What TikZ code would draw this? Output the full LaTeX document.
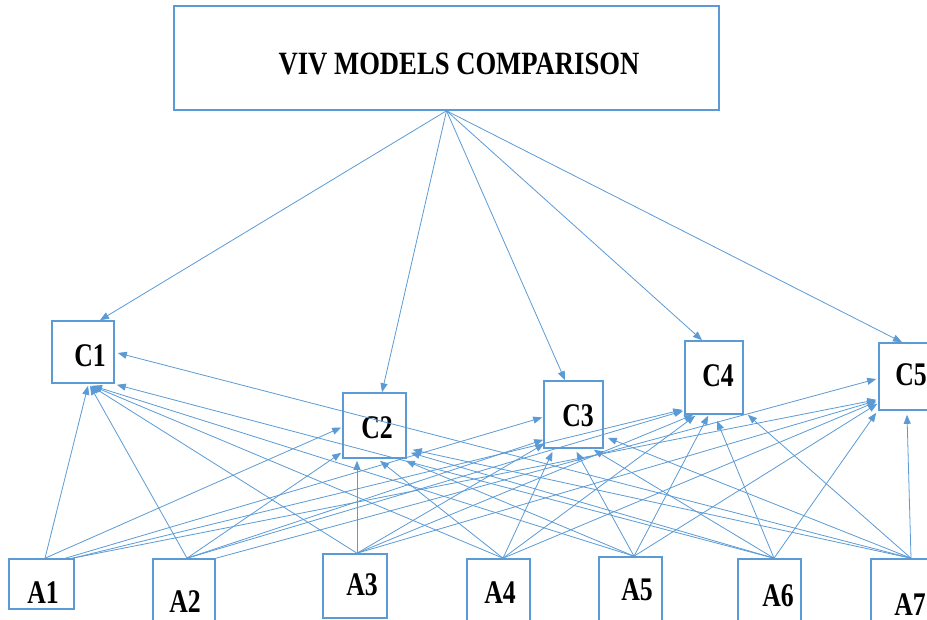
\documentclass[tikz,border=0pt]{standalone}
\usepackage{fontspec}
\setmainfont{Liberation Serif}
\newfontfamily\condfont[FakeStretch=0.78]{Liberation Serif}
\newfontfamily\titlefont[FakeStretch=0.82]{Liberation Serif}
\usetikzlibrary{arrows.meta,calc}
\definecolor{vivblue}{RGB}{91,155,213}
\tikzset{
  box/.style={draw=vivblue, line width=1.6pt, inner sep=0pt, fill=none},
  lbl/.style={inner sep=0pt, font=\condfont\bfseries\fontsize{33}{33}\selectfont, text=black},
  ttl/.style={inner sep=0pt, font=\titlefont\bfseries\fontsize{32.5}{33}\selectfont, text=black},
  con/.style={draw=vivblue, line width=0.8pt, -{Triangle[length=9pt,width=7pt]}},
}
\begin{document}
\begin{tikzpicture}[x=1pt,y=-1pt]
\clip (0,0) rectangle (927,620);
\fill[white] (0,0) rectangle (927,620);
% top box
\node[box, minimum width=545pt, minimum height=104pt] (T) at (446.5,58) {};
\node[ttl] (Tl) at (459,64) {VIV MODELS COMPARISON};
% C boxes
\node[box, minimum width=62pt, minimum height=62pt] (C1) at (83,352) {};
\node[lbl] (C1l) at (90,356) {C1};
\node[box, minimum width=63pt, minimum height=65pt] (C2) at (374.5,425.5) {};
\node[lbl] (C2l) at (377,428) {C2};
\node[box, minimum width=59pt, minimum height=67pt] (C3) at (573.5,414.5) {};
\node[lbl] (C3l) at (578,416) {C3};
\node[box, minimum width=58pt, minimum height=73pt] (C4) at (714,377.5) {};
\node[lbl] (C4l) at (718,376) {C4};
\node[box, minimum width=66pt, minimum height=67pt] (C5) at (912,376.5) {};
\node[lbl] (C5l) at (911,375) {C5};
% A boxes
\node[box, minimum width=65pt, minimum height=50pt] (A1) at (41.5,584) {};
\node[lbl] (A1l) at (43,593) {A1};
\node[box, minimum width=62pt, minimum height=66pt] (A2) at (184,592) {};
\node[lbl] (A2l) at (185,602) {A2};
\node[box, minimum width=64pt, minimum height=64pt] (A3) at (355,586) {};
\node[lbl] (A3l) at (362,585) {A3};
\node[box, minimum width=63pt, minimum height=66pt] (A4) at (498.5,592) {};
\node[lbl] (A4l) at (500,593) {A4};
\node[box, minimum width=63pt, minimum height=68pt] (A5) at (630.5,591) {};
\node[lbl] (A5l) at (637,590) {A5};
\node[box, minimum width=63pt, minimum height=66pt] (A6) at (769.5,592) {};
\node[lbl] (A6l) at (778,596) {A6};
\node[box, minimum width=66pt, minimum height=66pt] (A7) at (904,592) {};
\node[lbl] (A7l) at (910,605) {A7};
% top connectors
\draw[con] (T.south) -- ($(C1.north)+(17,0)$);
\draw[con] (T.south) -- ($(C2.north)+(7.5,0)$);
\draw[con] (T.south) -- ($(C3.north)+(-8.5,0)$);
\draw[con] (T.south) -- ($(C4.north)+(-12,0)$);
\draw[con] (T.south) -- ($(C5.north)+(-10,0)$);
% start points
\coordinate (a1) at ($(A1.north)+(3.5,0)$);
\coordinate (a1r) at ($(A1.north)+(24,0)$);
\coordinate (a1rr) at ($(A1.north)+(31,0)$);
\coordinate (a2) at ($(A2.north)+(3,0)$);
\coordinate (a2r) at ($(A2.north)+(32,0)$);
\coordinate (a3) at ($(A3.north)+(2,0)$);
\coordinate (a4) at ($(A4.north)+(4.5,0)$);
\coordinate (a5) at ($(A5.north)+(3.5,0)$);
\coordinate (a6) at ($(A6.north)+(4.5,0)$);
\coordinate (a7) at ($(A7.north)+(7,0)$);
% to C1
\draw[con] (a1) -- ($(C1.south)+(5,2)$);
\draw[con] (a2) -- ($(C1.south)+(7,2)$);
\draw[con] (a3) -- ($(C1.south)+(8,2)$);
\draw[con] (a4) -- ($(C1.south)+(9,2)$);
\draw[con] (a5) -- ($(C1.south)+(10,2)$);
\draw[con] (a6) -- ($(C1.south east)+(2,1)$);
\draw[con] (a7) -- ($(C1.east)+(3,1)$);
% to C2
\draw[con] (a1) -- ($(C2.west)+(-1,2)$);
\draw[con] (a2) -- ($(C2.south west)+(-1,-6)$);
\draw[con] (a3) -- ($(C2.south)+(-17.5,2)$);
\draw[con] (a4) -- ($(C2.south)+(5.5,2)$);
\draw[con] (a5) -- ($(C2.south east)+(-1,2)$);
\draw[con] (a6) -- ($(C2.south east)+(4,-6)$);
\draw[con] (a7) -- ($(C2.south east)+(6,-9)$);
% to C3
\draw[con] (a1r) -- ($(C3.west)+(-1,3)$);
\draw[con] (a2) -- ($(C3.south west)+(0,-9)$);
\draw[con] (a3) -- ($(C3.south west)+(1,-5)$);
\draw[con] (a4) -- ($(C3.south)+(-21,3)$);
\draw[con] (a5) -- ($(C3.south)+(3,3)$);
\draw[con] (a6) -- ($(C3.south east)+(-10,1)$);
\draw[con] (a7) -- ($(C3.south east)+(4,-11)$);
% to C4
\draw[con] (a1rr) -- ($(C4.south west)+(-2,-5)$);
\draw[con] (a2) -- ($(C4.south west)+(-1,-4)$);
\draw[con] (a3) -- ($(C4.south west)+(9,0)$);
\draw[con] (a4) -- ($(C4.south west)+(11,1)$);
\draw[con] (a5) -- ($(C4.south west)+(24,1)$);
\draw[con] (a6) -- ($(C4.south)+(3,6)$);
\draw[con] (a7) -- ($(C4.south east)+(4,0)$);
% to C5
\draw[con] (a1rr) -- ($(C5.south west)+(-2,-11)$);
\draw[con] (a2r) -- ($(C5.west)+(-2,2.5)$);
\draw[con] (a3) -- ($(C5.south west)+(-2,-10)$);
\draw[con] (a4) -- ($(C5.south west)+(-2,-9)$);
\draw[con] (a5) -- ($(C5.south west)+(-1,-7)$);
\draw[con] (a6) -- ($(C5.south west)+(-2,2)$);
\draw[con] (a7) -- ($(C5.south)+(-5,4)$);
\end{tikzpicture}
\end{document}
